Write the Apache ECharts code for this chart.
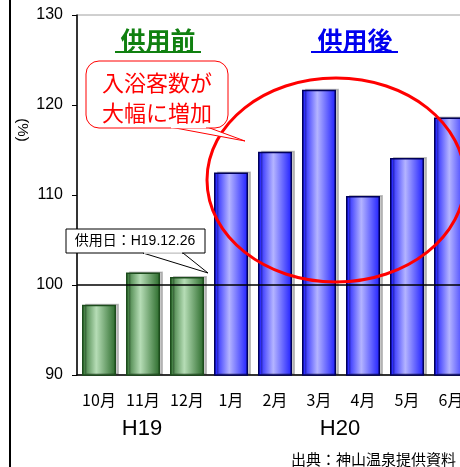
<!DOCTYPE html>
<html><head><meta charset="utf-8">
<script src="https://cdn.jsdelivr.net/npm/echarts@6/dist/echarts.min.js"></script>
<style>html,body{margin:0;padding:0;background:#fff}#c{width:460px;height:467px}</style>
</head><body><div id="c"></div>
<script>
var categories = ['10月','11月','12月','1月','2月','3月','4月','5月','6月'];
var beforeValues = [97.8, 101.4, 100.9, null, null, null, null, null, null];
var afterValues = [null, null, null, 112.5, 114.8, 121.7, 109.9, 114.1, 118.6];
var yTicks = {min: 90, max: 130, interval: 10};
var baseLine = 100;
var yearLabels = ['H19', 'H20'];

var NUM = "'Liberation Sans','Noto Sans CJK JP',sans-serif";
var NARROW = "'Liberation Sans Narrow','Noto Sans CJK JP',sans-serif";
var JP = "'Noto Sans CJK JP',sans-serif";
var chart = echarts.init(document.getElementById('c'), null, {renderer: 'canvas'});

var greenGrad = new echarts.graphic.LinearGradient(0,0,1,0,[
  {offset:0,color:'#2f6f2f'},{offset:0.42,color:'#b6ddb6'},{offset:1,color:'#2a6a2a'}]);
var blueGrad = new echarts.graphic.LinearGradient(0,0,1,0,[
  {offset:0,color:'#1414ff'},{offset:0.45,color:'#b4b4ff'},{offset:1,color:'#1e1eff'}]);

chart.setOption({
  animation: false,
  grid: {left: 77, top: 15, height: 360, width: 396, outerBoundsMode: 'none', containLabel: false,
         show: true, borderColor: '#a0a0a0', borderWidth: 1},
  xAxis: {
    type: 'category', data: categories,
    axisLine: {lineStyle: {color: '#000', width: 1.5}},
    axisTick: {inside: true, length: 4, lineStyle: {color: '#888'}},
    axisLabel: {fontFamily: NARROW, fontSize: 16, color: '#000', margin: 17}
  },
  yAxis: {
    type: 'value', min: yTicks.min, max: yTicks.max, interval: yTicks.interval,
    splitLine: {show: false},
    axisLine: {show: true, lineStyle: {color: '#000', width: 1.5}},
    axisTick: {show: true, length: 5, lineStyle: {color: '#000'}},
    axisLabel: {fontFamily: NUM, fontSize: 16, color: '#000', margin: 14}
  },
  series: [
    {type: 'bar', data: beforeValues, barWidth: 34, barGap: '-100%',
     itemStyle: {color: greenGrad, borderColor: '#1c4c1c', borderWidth: 1.5,
       shadowColor: 'rgba(0,0,0,0.22)', shadowOffsetX: 3, shadowOffsetY: -1, shadowBlur: 0},
     markLine: {symbol: 'none', silent: true, label: {show: false},
       lineStyle: {color: '#000', width: 1.5, type: 'solid'}, data: [{yAxis: baseLine}]},
     z: 2},
    {type: 'bar', data: afterValues, barWidth: 34,
     itemStyle: {color: blueGrad, borderColor: '#00005a', borderWidth: 1.5,
       shadowColor: 'rgba(0,0,0,0.22)', shadowOffsetX: 3, shadowOffsetY: -1, shadowBlur: 0},
     z: 2}
  ],
  graphic: [
    {type: 'line', shape: {x1: 10, y1: 0, x2: 10, y2: 467}, style: {stroke: '#000', lineWidth: 2}},
    {type: 'text', x: 22, y: 130, rotation: -Math.PI/2,
     style: {text: '(%)', font: '15px ' + NUM, fill: '#000', align: 'center', verticalAlign: 'middle'}},
    {type: 'text', x: 142, y: 429, style: {text: yearLabels[0], font: '22px ' + NUM, fill: '#000', align: 'center', verticalAlign: 'middle'}},
    {type: 'text', x: 340, y: 429, style: {text: yearLabels[1], font: '22px ' + NUM, fill: '#000', align: 'center', verticalAlign: 'middle'}},
    {type: 'text', x: 456, y: 459, style: {text: '出典：神山温泉提供資料', font: '15px ' + JP, fill: '#000', align: 'right', verticalAlign: 'middle'}},
    {type: 'text', x: 158, y: 40, style: {text: '供用前', font: 'bold 25px ' + JP, fill: '#108010', align: 'center', verticalAlign: 'middle'}},
    {type: 'line', shape: {x1: 115, y1: 52, x2: 201, y2: 52}, style: {stroke: '#108010', lineWidth: 2}},
    {type: 'text', x: 355, y: 40, style: {text: '供用後', font: 'bold 25px ' + JP, fill: '#0000ee', align: 'center', verticalAlign: 'middle'}},
    {type: 'line', shape: {x1: 311, y1: 52, x2: 398, y2: 52}, style: {stroke: '#0000ee', lineWidth: 2}},
    {type: 'ellipse', shape: {cx: 336, cy: 180, rx: 129, ry: 102}, style: {fill: 'none', stroke: '#ff0000', lineWidth: 3}, z: 10},
    {type: 'polygon', shape: {points: [[170,127],[245,141],[207,127]]}, style: {fill: '#fff', stroke: '#ff0000', lineWidth: 1}, z: 11},
    {type: 'rect', shape: {x: 86, y: 61, width: 142, height: 67, r: 13}, style: {fill: '#fff', stroke: '#ff0000', lineWidth: 1}, z: 12},
    {type: 'line', shape: {x1: 171, y1: 127.5, x2: 206, y2: 127.5}, style: {stroke: '#fff', lineWidth: 1.5}, z: 13},
    {type: 'text', x: 157, y: 83, style: {text: '入浴客数が', font: '22px ' + JP, fill: '#ff0000', align: 'center', verticalAlign: 'middle'}, z: 14},
    {type: 'text', x: 157, y: 113, style: {text: '大幅に増加', font: '22px ' + JP, fill: '#ff0000', align: 'center', verticalAlign: 'middle'}, z: 14},
    {type: 'polygon', shape: {points: [[143,253],[208,273],[183,253]]}, style: {fill: '#fff', stroke: '#000', lineWidth: 1}, z: 11},
    {type: 'rect', shape: {x: 66, y: 229, width: 139, height: 24}, style: {fill: '#fff', stroke: '#000', lineWidth: 1}, z: 12},
    {type: 'line', shape: {x1: 144, y1: 253, x2: 182, y2: 253}, style: {stroke: '#fff', lineWidth: 1.5}, z: 13},
    {type: 'text', x: 135, y: 241, style: {text: '供用日：H19.12.26', font: '14px ' + NUM, fill: '#000', align: 'center', verticalAlign: 'middle'}, z: 14}
  ]
});
</script></body></html>
